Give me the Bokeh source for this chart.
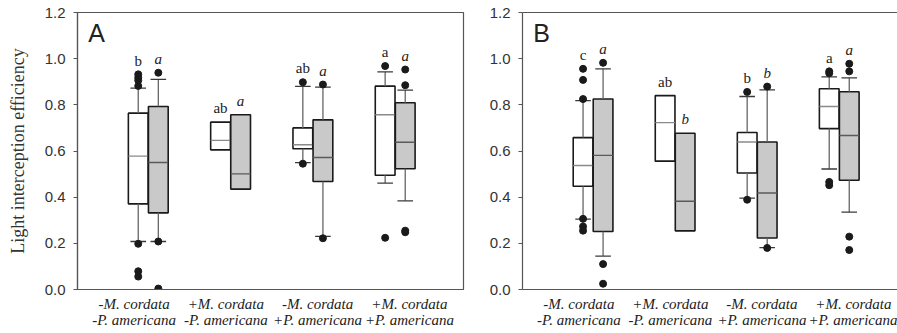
import math
from bokeh.plotting import figure
from bokeh.models import Range1d, FixedTicker, LinearAxis, Label
from bokeh.layouts import row
from bokeh.core.properties import value
from bokeh.embed import file_html
from bokeh.resources import INLINE

NaN = float("nan")

# ---------------- data ----------------
groups = [1, 2, 3, 4]
labels_line1 = ["-M. cordata", "+M. cordata", "-M. cordata", "+M. cordata"]
labels_line2 = ["-P. americana", "-P. americana", "+P. americana", "+P. americana"]
y_ticks = [0.0, 0.2, 0.4, 0.6, 0.8, 1.0, 1.2]

# Panel A  (white = M. cordata response, grey = P. americana response)
A_white_q1 = [0.371, 0.605, 0.610, 0.495]
A_white_med = [0.578, 0.646, 0.627, 0.757]
A_white_q3 = [0.764, 0.725, 0.700, 0.881]
A_white_lo = [0.208, NaN, 0.550, 0.461]
A_white_hi = [0.872, NaN, 0.880, 0.943]
A_white_out = [[0.932, 0.918, 0.906, 0.882, 0.198, 0.079, 0.056], [], [0.898, 0.545], [0.968, 0.224]]
A_white_letters = ["b", "ab", "ab", "a"]

A_grey_q1 = [0.332, 0.435, 0.468, 0.523]
A_grey_med = [0.550, 0.501, 0.572, 0.638]
A_grey_q3 = [0.793, 0.757, 0.735, 0.809]
A_grey_lo = [0.208, NaN, 0.230, 0.384]
A_grey_hi = [0.910, NaN, 0.877, 0.864]
A_grey_out = [[0.939, 0.208, 0.004], [], [0.888, 0.222], [0.953, 0.885, 0.255, 0.248]]
A_grey_letters = ["a", "a", "a", "a"]

# Panel B
B_white_q1 = [0.447, 0.556, 0.505, 0.697]
B_white_med = [0.537, 0.723, 0.639, 0.793]
B_white_q3 = [0.658, 0.840, 0.680, 0.870]
B_white_lo = [0.305, NaN, 0.396, 0.522]
B_white_hi = [0.818, NaN, 0.836, 0.921]
B_white_out = [[0.956, 0.908, 0.825, 0.306, 0.273, 0.255], [], [0.856, 0.389], [0.945, 0.937, 0.466, 0.452]]
B_white_letters = ["c", "ab", "b", "a"]

B_grey_q1 = [0.251, 0.254, 0.223, 0.473]
B_grey_med = [0.581, 0.382, 0.418, 0.667]
B_grey_q3 = [0.825, 0.677, 0.639, 0.857]
B_grey_lo = [0.145, NaN, 0.181, 0.335]
B_grey_hi = [0.956, NaN, 0.865, 0.917]
B_grey_out = [[0.982, 0.110, 0.025], [], [0.879, 0.180], [0.978, 0.945, 0.229, 0.171]]
B_grey_letters = ["a", "b", "b", "a"]

# ---------------- styling ----------------
OFFSET = 0.122
BOX_W = 0.24
CAP_W = 0.19
WHITE_FILL = "#ffffff"
GREY_FILL = "#c9c9c9"
WHITE_MED = "#8a8a8a"
GREY_MED = "#5a5a5a"
LETTER_PAD = 0.06
label_center = 2.5
label_step = 1.115
label_pos = [round(label_center + (k - 1.5) * label_step, 4) for k in range(len(groups))]


def draw_series(p, xs, q1, med, q3, lo, hi, outs, letters, fill, med_color, italic):
    p.vbar(x=xs, width=BOX_W, top=q3, bottom=q1, fill_color=fill,
           line_color="#1a1a1a", line_width=1.6)
    p.segment(x0=[x - BOX_W / 2 for x in xs], x1=[x + BOX_W / 2 for x in xs],
              y0=med, y1=med, line_color=med_color, line_width=1.4)
    wx, wq3, whi, wq1, wlo = [], [], [], [], []
    for x, a, b, c, d in zip(xs, q3, hi, q1, lo):
        if not math.isnan(b):
            wx.append(x); wq3.append(a); whi.append(b); wq1.append(c); wlo.append(d)
    p.segment(x0=wx, x1=wx, y0=wq3, y1=whi, line_color="#666666", line_width=1.3)
    p.segment(x0=wx, x1=wx, y0=wlo, y1=wq1, line_color="#666666", line_width=1.3)
    p.segment(x0=[x - CAP_W / 2 for x in wx], x1=[x + CAP_W / 2 for x in wx],
              y0=whi, y1=whi, line_color="#3a3a3a", line_width=1.3)
    p.segment(x0=[x - CAP_W / 2 for x in wx], x1=[x + CAP_W / 2 for x in wx],
              y0=wlo, y1=wlo, line_color="#3a3a3a", line_width=1.3)
    ox, oy = [], []
    for x, vals in zip(xs, outs):
        for v in vals:
            ox.append(x); oy.append(v)
    p.scatter(x=ox, y=oy, size=7, marker="circle", fill_color="#1a1a1a", line_color="#1a1a1a")
    ly = []
    for a, b, vals in zip(q3, hi, outs):
        cands = [a] + ([] if math.isnan(b) else [b]) + list(vals)
        ly.append(max(cands) + LETTER_PAD)
    p.text(x=xs, y=ly, text=letters, text_font=value("Liberation Serif"),
           text_font_style="italic" if italic else "normal", text_font_size="15px",
           text_align="center", text_baseline="middle", text_color="#222222")


def style_label_axis(ax, labels, standoff, show_line):
    ax.ticker = FixedTicker(ticks=label_pos)
    ax.major_label_overrides = {t: lab for t, lab in zip(label_pos, labels)}
    ax.major_label_text_font = "Liberation Serif"
    ax.major_label_text_font_style = "italic"
    ax.major_label_text_font_size = "15px"
    ax.major_label_text_color = "#222222"
    ax.major_tick_line_color = None
    ax.minor_tick_line_color = None
    ax.major_tick_in = 0
    ax.major_tick_out = 0
    ax.major_label_standoff = standoff
    if show_line:
        ax.axis_line_color = "#555555"
        ax.axis_line_width = 1.2
    else:
        ax.axis_line_color = None


def make_panel(letter, width, x_end, border_left, show_title, full_outline,
               w_data, g_data):
    p = figure(width=width, height=333, output_backend="svg", toolbar_location=None,
               x_range=Range1d(0.14, x_end), y_range=Range1d(0, 1.2),
               min_border_left=border_left, min_border_right=(7 if full_outline else 0),
               min_border_top=12, min_border_bottom=44)
    p.grid.visible = False
    p.background_fill_color = "white"
    p.border_fill_color = "white"

    yax = p.left[0]
    yax.ticker = FixedTicker(ticks=y_ticks)
    yax.major_label_overrides = {t: f"{t:.1f}" for t in y_ticks}
    yax.major_label_text_font = "Liberation Sans"
    yax.major_label_text_font_size = "15px"
    yax.major_label_text_color = "#333333"
    yax.major_tick_in = 0
    yax.major_tick_out = 4
    yax.major_tick_line_color = "#555555"
    yax.minor_tick_line_color = None
    yax.axis_line_color = "#555555"
    yax.axis_line_width = 1.2
    yax.major_label_standoff = 8
    if show_title:
        yax.axis_label = "Light interception efficiency"
        yax.axis_label_text_font = "Liberation Serif"
        yax.axis_label_text_font_style = "normal"
        yax.axis_label_text_font_size = "18px"
        yax.axis_label_text_color = "#333333"
        yax.axis_label_standoff = 14

    style_label_axis(p.below[0], labels_line1, 6, True)
    ax2 = LinearAxis()
    style_label_axis(ax2, labels_line2, -3, False)
    p.add_layout(ax2, "below")

    if full_outline:
        p.outline_line_color = "#555555"
        p.outline_line_width = 1.2
    else:
        p.outline_line_color = None
        top = LinearAxis(ticker=FixedTicker(ticks=[]), axis_line_color="#555555",
                         axis_line_width=1.2, major_tick_line_color=None,
                         minor_tick_line_color=None, major_label_standoff=0,
                         major_label_text_font_size="0px")
        p.add_layout(top, "above")

    wx = [g - OFFSET for g in groups]
    gx = [g + OFFSET for g in groups]
    draw_series(p, wx, *w_data, WHITE_FILL, WHITE_MED, False)
    draw_series(p, gx, *g_data, GREY_FILL, GREY_MED, True)

    p.add_layout(Label(x=0.27, y=1.17, text=letter, text_font="Liberation Sans",
                       text_font_size="25px", text_color="#222222", text_baseline="top"))
    return p


pA = make_panel("A", 470, 4.83, 77, True, True,
                (A_white_q1, A_white_med, A_white_q3, A_white_lo, A_white_hi, A_white_out, A_white_letters),
                (A_grey_q1, A_grey_med, A_grey_q3, A_grey_lo, A_grey_hi, A_grey_out, A_grey_letters))
pB = make_panel("B", 427, 4.71, 52, False, False,
                (B_white_q1, B_white_med, B_white_q3, B_white_lo, B_white_hi, B_white_out, B_white_letters),
                (B_grey_q1, B_grey_med, B_grey_q3, B_grey_lo, B_grey_hi, B_grey_out, B_grey_letters))

layout = row(pA, pB)
open("out.html", "w").write(file_html(layout, INLINE))
